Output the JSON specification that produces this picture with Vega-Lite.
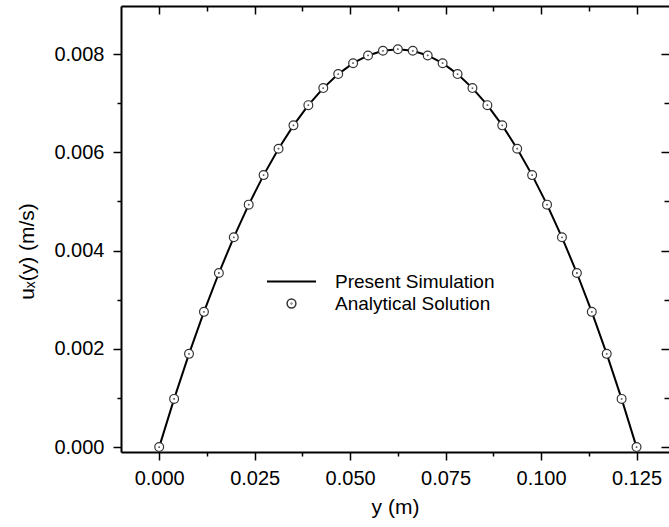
{
  "$schema": "https://vega.github.io/schema/vega-lite/v6.json",
  "width": 548,
  "height": 446,
  "autosize": {"type": "none"},
  "padding": {"left": 121, "top": 6, "right": 0, "bottom": 75},
  "background": "white",
  "data": {
    "values": [
      {"y": 0, "sim": 0, "ana": 0},
      {"y": 0.00391, "sim": 0.000981, "ana": 0.000981},
      {"y": 0.00781, "sim": 0.001898, "ana": 0.001898},
      {"y": 0.01172, "sim": 0.002753, "ana": 0.002753},
      {"y": 0.01563, "sim": 0.003544, "ana": 0.003544},
      {"y": 0.01953, "sim": 0.004271, "ana": 0.004271},
      {"y": 0.02344, "sim": 0.004936, "ana": 0.004936},
      {"y": 0.02734, "sim": 0.005537, "ana": 0.005537},
      {"y": 0.03125, "sim": 0.006075, "ana": 0.006075},
      {"y": 0.03516, "sim": 0.00655, "ana": 0.00655},
      {"y": 0.03906, "sim": 0.006961, "ana": 0.006961},
      {"y": 0.04297, "sim": 0.007309, "ana": 0.007309},
      {"y": 0.04688, "sim": 0.007594, "ana": 0.007594},
      {"y": 0.05078, "sim": 0.007815, "ana": 0.007815},
      {"y": 0.05469, "sim": 0.007973, "ana": 0.007973},
      {"y": 0.05859, "sim": 0.008068, "ana": 0.008068},
      {"y": 0.0625, "sim": 0.0081, "ana": 0.0081},
      {"y": 0.06641, "sim": 0.008068, "ana": 0.008068},
      {"y": 0.07031, "sim": 0.007973, "ana": 0.007973},
      {"y": 0.07422, "sim": 0.007815, "ana": 0.007815},
      {"y": 0.07813, "sim": 0.007594, "ana": 0.007594},
      {"y": 0.08203, "sim": 0.007309, "ana": 0.007309},
      {"y": 0.08594, "sim": 0.006961, "ana": 0.006961},
      {"y": 0.08984, "sim": 0.00655, "ana": 0.00655},
      {"y": 0.09375, "sim": 0.006075, "ana": 0.006075},
      {"y": 0.09766, "sim": 0.005537, "ana": 0.005537},
      {"y": 0.10156, "sim": 0.004936, "ana": 0.004936},
      {"y": 0.10547, "sim": 0.004271, "ana": 0.004271},
      {"y": 0.10938, "sim": 0.003544, "ana": 0.003544},
      {"y": 0.11328, "sim": 0.002753, "ana": 0.002753},
      {"y": 0.11719, "sim": 0.001898, "ana": 0.001898},
      {"y": 0.12109, "sim": 0.000981, "ana": 0.000981},
      {"y": 0.125, "sim": 0, "ana": 0}
    ]
  },
  "resolve": {"axis": {"x": "independent", "y": "independent"}},
  "layer": [
    {
      "mark": {"type": "line", "strokeWidth": 2},
      "encoding": {
        "x": {
          "field": "y", "type": "quantitative",
          "scale": {"domain": [-0.01, 0.1335], "nice": false, "zero": false},
          "axis": {
            "orient": "bottom", "title": "y (m)", "values": [0, 0.025, 0.05, 0.075, 0.1, 0.125],
            "format": ".3f", "tickSize": 8, "labelPadding": 8, "domain": true,
            "titleFontSize": 21, "titleY": 61, "titleBaseline": "alphabetic", "titlePadding": 10
          }
        },
        "y": {
          "field": "sim", "type": "quantitative",
          "scale": {"domain": [-0.0001, 0.00898], "nice": false, "zero": false},
          "axis": {
            "orient": "left", "title": "uₓ(y) (m/s)", "values": [0, 0.002, 0.004, 0.006, 0.008],
            "format": ".3f", "tickSize": 8, "labelPadding": 9, "domain": true,
            "titleFontSize": 21, "titleX": -84, "titleY": 245, "titleAngle": 270,
            "titleAlign": "center", "titleBaseline": "bottom"
          }
        },
        "color": {
          "datum": "Present Simulation",
          "scale": {"domain": ["Present Simulation"], "range": ["black"]},
          "legend": {
            "title": null, "orient": "none", "legendX": 161, "legendY": 266, "padding": 0,
            "symbolType": "M-4.9,0H4.9", "symbolSize": 100,
            "labelFont": "Liberation Sans", "labelFontSize": 19, "labelColor": "black", "labelOffset": 34,
            "labelLimit": 400,
            "encode": {
              "symbols": {
                "update": {
                  "stroke": {"value": "black"},
                  "strokeWidth": {"value": 2},
                  "opacity": {"value": 1}
                }
              }
            }
          }
        }
      }
    },
    {
      "mark": {"type": "point", "filled": true, "fill": "white", "stroke": "#333", "strokeWidth": 1.2, "size": 100, "opacity": 1},
      "encoding": {
        "x": {
          "field": "y", "type": "quantitative",
          "axis": {"orient": "bottom", "title": null, "values": [0.0125, 0.0375, 0.0625, 0.0875, 0.1125], "labels": false, "tickSize": 4, "domain": false}
        },
        "y": {
          "field": "ana", "type": "quantitative",
          "axis": {"orient": "left", "title": null, "values": [0.001, 0.003, 0.005, 0.007], "labels": false, "tickSize": 4, "domain": false}
        },
        "shape": {
          "datum": "Analytical Solution",
          "scale": {
            "domain": ["Analytical Solution"],
            "range": ["M-0.88,0A0.88,0.88 0 1,0 0.88,0A0.88,0.88 0 1,0 -0.88,0M-0.06,0A0.06,0.06 0 1,0 0.06,0A0.06,0.06 0 1,0 -0.06,0"]
          },
          "legend": {
            "title": null, "orient": "none", "legendX": 161, "legendY": 288, "padding": 0,
            "symbolSize": 100,
            "labelFont": "Liberation Sans", "labelFontSize": 19, "labelColor": "black", "labelOffset": 34,
            "labelLimit": 400,
            "encode": {
              "symbols": {
                "update": {
                  "fill": {"value": "white"},
                  "stroke": {"value": "black"},
                  "strokeWidth": {"value": 1.8},
                  "opacity": {"value": 1}
                }
              }
            }
          }
        }
      }
    },
    {
      "mark": {"type": "point", "opacity": 0},
      "encoding": {
        "x": {
          "field": "y", "type": "quantitative",
          "axis": {"orient": "top", "title": null, "values": [0, 0.025, 0.05, 0.075, 0.1, 0.125], "labels": false, "tickSize": -8, "domain": true}
        },
        "y": {
          "field": "ana", "type": "quantitative",
          "axis": {"orient": "right", "title": null, "values": [0, 0.002, 0.004, 0.006, 0.008], "labels": false, "tickSize": -8, "domain": false}
        }
      }
    },
    {
      "mark": {"type": "point", "opacity": 0},
      "encoding": {
        "x": {
          "field": "y", "type": "quantitative",
          "axis": {"orient": "top", "title": null, "values": [0.0125, 0.0375, 0.0625, 0.0875, 0.1125], "labels": false, "tickSize": -5, "domain": false}
        },
        "y": {
          "field": "ana", "type": "quantitative",
          "axis": {"orient": "right", "title": null, "values": [0.001, 0.003, 0.005, 0.007], "labels": false, "tickSize": -5, "domain": false}
        }
      }
    }
  ],
  "config": {
    "view": {"stroke": null},
    "axis": {
      "grid": false,
      "labelFont": "Liberation Sans", "titleFont": "Liberation Sans",
      "labelFontSize": 20, "labelColor": "black", "titleColor": "black", "titleFontWeight": "normal",
      "tickColor": "black", "tickWidth": 1.5, "domainColor": "black", "domainWidth": 2
    }
  }
}
